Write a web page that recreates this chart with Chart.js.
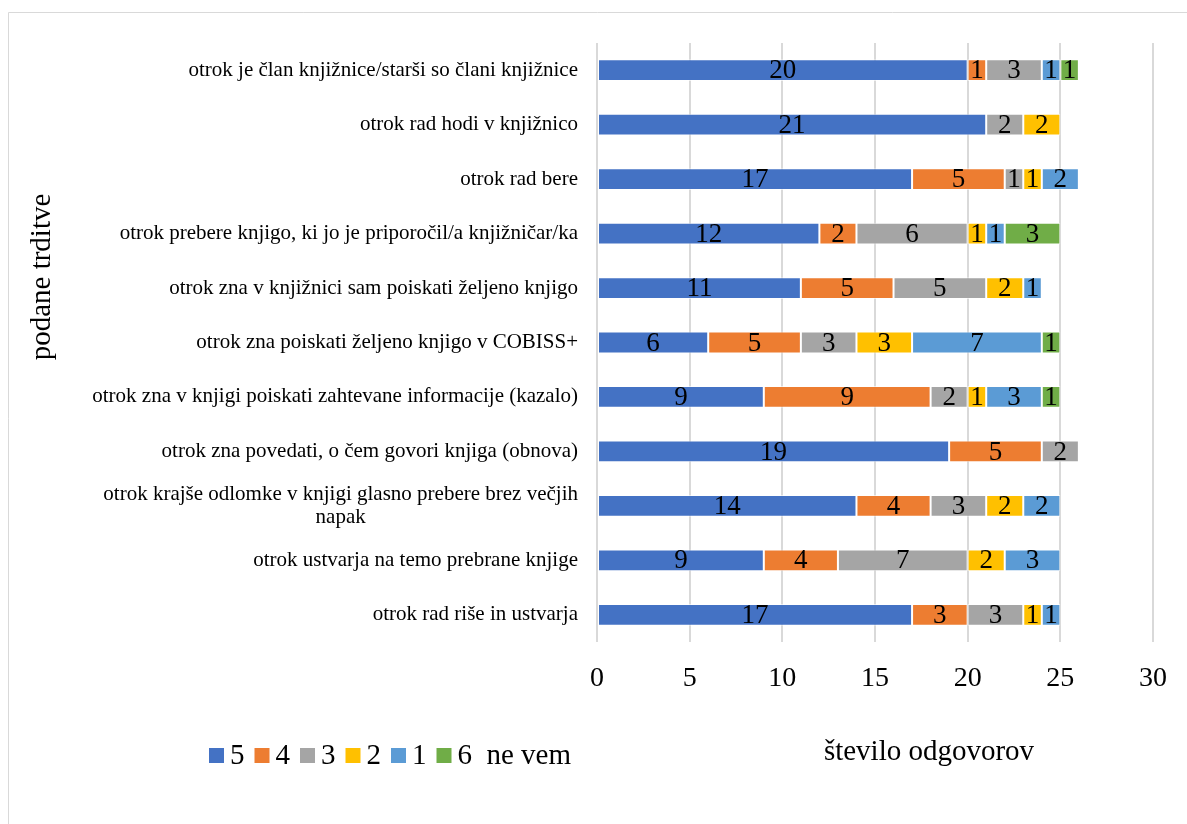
<!DOCTYPE html>
<html>
<head>
<meta charset="utf-8">
<script src="https://cdn.jsdelivr.net/npm/chart.js@4/dist/chart.umd.min.js"></script>
<style>
html,body{margin:0;padding:0;background:#fff;}
#wrap{width:1187px;height:824px;position:relative;}
</style>
</head>
<body>
<div id="wrap"><canvas id="c" width="1187" height="824"></canvas></div>
<script>
const categories = [
  'otrok je član knjižnice/starši so člani knjižnice',
  'otrok rad hodi v knjižnico',
  'otrok rad bere',
  'otrok prebere knjigo, ki jo je priporočil/a knjižničar/ka',
  'otrok zna v knjižnici sam poiskati željeno knjigo',
  'otrok zna poiskati željeno knjigo v COBISS+',
  'otrok zna v knjigi poiskati zahtevane informacije (kazalo)',
  'otrok zna povedati, o čem govori knjiga (obnova)',
  ['otrok krajše odlomke v knjigi glasno prebere brez večjih', 'napak'],
  'otrok ustvarja na temo prebrane knjige',
  'otrok rad riše in ustvarja'
];
const seriesNames = ['5', '4', '3', '2', '1', '6  ne vem'];
const s5 = [20, 21, 17, 12, 11, 6, 9, 19, 14, 9, 17];
const s4 = [1, 0, 5, 2, 5, 5, 9, 5, 4, 4, 3];
const s3 = [3, 2, 1, 6, 5, 3, 2, 2, 3, 7, 3];
const s2 = [0, 2, 1, 1, 2, 3, 1, 0, 2, 2, 1];
const s1 = [1, 0, 2, 1, 1, 7, 3, 0, 2, 3, 1];
const s6 = [1, 0, 0, 3, 0, 1, 1, 0, 0, 0, 0];
const xTicks = [0, 5, 10, 15, 20, 25, 30];
const colors = ['#4472C4', '#ED7D31', '#A5A5A5', '#FFC000', '#5B9BD5', '#70AD47'];
const xTitle = 'število odgovorov';
const yTitle = 'podane trditve';

const seriesValues = [s5, s4, s3, s2, s1, s6];
const FONT = '"Liberation Serif", "Times New Roman", serif';

const datasets = seriesValues.map((vals, i) => ({
  label: seriesNames[i],
  data: vals.map(v => v === 0 ? null : v),
  backgroundColor: colors[i],
  borderColor: 'rgba(255,255,255,0.6)',
  borderWidth: 1,
  borderSkipped: false,
  barPercentage: 0.4,
  categoryPercentage: 1.0
}));

const decor = {
  id: 'decor',
  beforeDraw(chart) {
    const ctx = chart.ctx;
    ctx.save();
    ctx.fillStyle = '#fff';
    ctx.fillRect(0, 0, chart.width, chart.height);
    ctx.strokeStyle = '#d9d9d9';
    ctx.lineWidth = 1;
    ctx.beginPath();
    ctx.moveTo(8.5, 824);
    ctx.lineTo(8.5, 12.5);
    ctx.lineTo(1187, 12.5);
    ctx.stroke();
    ctx.restore();
  },
  afterDatasetsDraw(chart) {
    const ctx = chart.ctx;
    ctx.save();
    // data labels
    ctx.font = '27px ' + FONT;
    ctx.fillStyle = '#000';
    ctx.textAlign = 'center';
    ctx.textBaseline = 'middle';
    chart.data.datasets.forEach((ds, di) => {
      const meta = chart.getDatasetMeta(di);
      meta.data.forEach((el, i) => {
        const v = ds.data[i];
        if (!v) return;
        const cx = (el.x + el.base) / 2;
        ctx.fillText(String(v), cx, el.y + 1);
      });
    });
    // category labels
    const ys = chart.scales.y;
    ctx.font = '21px ' + FONT;
    ctx.fillStyle = '#000';
    ctx.textBaseline = 'middle';
    const rightX = 578;
    categories.forEach((lab, i) => {
      const y = ys.getPixelForValue(i);
      const lines = Array.isArray(lab) ? lab : [lab];
      const lh = 23;
      const widths = lines.map(l => ctx.measureText(l).width);
      const maxW = Math.max(...widths);
      const blockCenter = rightX - maxW / 2;
      lines.forEach((l, li) => {
        const ly = y + (li - (lines.length - 1) / 2) * lh;
        ctx.textAlign = 'center';
        ctx.fillText(l, blockCenter, ly);
      });
    });
    // axis titles
    ctx.font = '29px ' + FONT;
    ctx.textAlign = 'center';
    ctx.textBaseline = 'middle';
    ctx.fillText(xTitle, 929, 752);
    ctx.save();
    ctx.translate(42, 277);
    ctx.rotate(-Math.PI / 2);
    ctx.fillText(yTitle, 0, 0);
    ctx.restore();
    // legend
    let x = 209;
    const ly = 755;
    ctx.textAlign = 'left';
    chart.data.datasets.forEach((ds, i) => {
      ctx.fillStyle = ds.backgroundColor;
      ctx.fillRect(x, ly - 7, 15, 15);
      x += 21;
      ctx.fillStyle = '#000';
      ctx.fillText(ds.label, x, ly + 1);
      x += ctx.measureText(ds.label).width + 10;
    });
    ctx.restore();
  }
};

new Chart(document.getElementById('c'), {
  type: 'bar',
  data: { labels: categories.map(c => Array.isArray(c) ? c.join(' ') : c), datasets },
  options: {
    indexAxis: 'y',
    responsive: false,
    animation: false,
    devicePixelRatio: 1,
    layout: { padding: { left: 597, right: 32, top: 43, bottom: 122 } },
    plugins: { legend: { display: false }, tooltip: { enabled: false } },
    scales: {
      x: {
        stacked: true,
        min: 0, max: 30,
        afterBuildTicks(scale) { scale.ticks = xTicks.map(v => ({ value: v })); },
        afterFit(scale) { scale.height = 60; },
        grid: { color: '#d9d9d9', lineWidth: 2, drawTicks: false },
        border: { display: false },
        ticks: { font: { size: 28, family: FONT }, color: '#000', padding: 20 }
      },
      y: {
        stacked: true,
        afterFit(scale) { scale.width = 0; },
        grid: { display: false },
        border: { display: false },
        ticks: { display: false }
      }
    }
  },
  plugins: [decor]
});
</script>
</body>
</html>
